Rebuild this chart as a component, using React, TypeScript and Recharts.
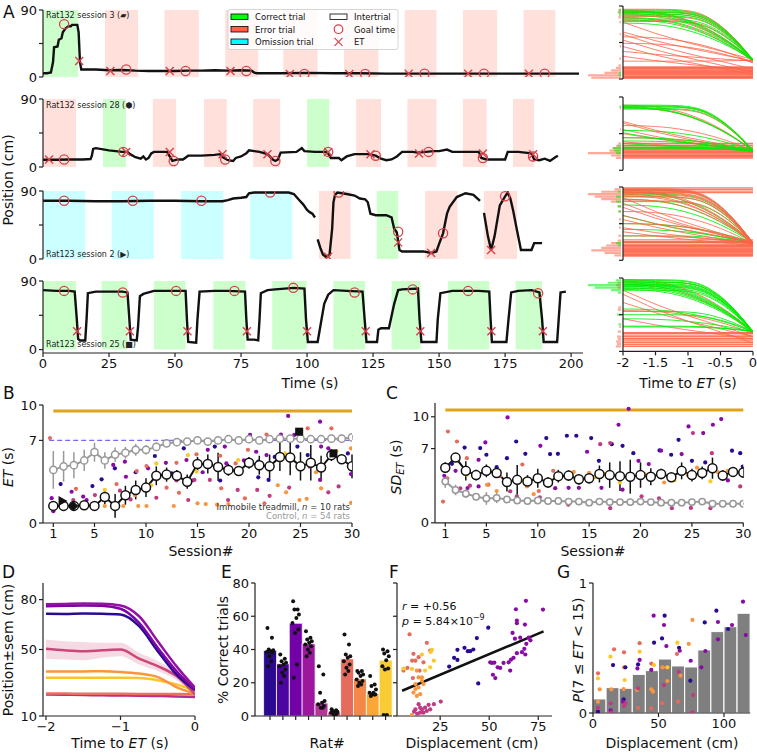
import React from 'react';
import { ComposedChart, Line, Scatter, XAxis, YAxis, ReferenceArea, ReferenceLine, ErrorBar, Bar, Area, Cell } from 'recharts';

const FONT = '"DejaVu Sans", "Liberation Sans", sans-serif';
const RED = '#d6404a';
const NAVY = '#2a0a91';
const PURP = '#8a0aa5';
const MAG = '#c03a83';
const SAL = '#e56b5d';
const ORA = '#f89540';
const YEL = '#f9c929';
const GOLD = '#e0a31e';
const TOMATO = '#ff6347';
const LIME = '#00ee00';

// ---------------- Panel A: position traces ----------------
const row1Trace = [[0,5],[1.5,5],[3,6],[3.8,20],[4.2,40],[5.5,41],[6,50],[7,52],[7.5,60],[8.5,65],[9.5,68],[10.5,68],[11,70],[13,70],[13.5,60],[14,20],[14.5,10],[17,10],[20,10],[25,9],[30,9.5],[35,8.5],[40,8],[45,8],[50,8],[55,8.5],[60,8.5],[65,9],[70,8.5],[75,9],[79,8.5],[80,6],[81,5],[90,5],[100,5.5],[110,5],[120,5],[130,4.5],[140,4.5],[150,4.5],[160,4.5],[170,4.5],[180,4.5],[190,4.5],[200,4.5],[203,4.5]];
const row1Goals = [[8,71],[31.5,10],[54,8],[77,8],[99,4],[122,4],[144.5,4.5],[167,4.5],[190,4.5]];
const row1ETs = [[13.7,21.5],[25.5,8],[48,8],[71,8],[93.5,4],[116,4],[138.5,4.5],[161,4.5],[184,4.5]];
const row1Trials = [[0,13.3,'c'],[23.5,36,'e'],[46,59,'e'],[69,81.5,'e'],[91,104,'e'],[114,127,'e'],[137,149,'e'],[159,172,'e'],[182,194,'e']];

const row2Trace = [[0,9.5],[5,9.5],[10,10],[15,10],[18,10.5],[18.5,15],[19,24],[20,25],[25,22],[30,20],[32,20],[33,17],[35,13],[37,11],[38,14],[39,10],[40,12],[41,18],[42,20],[47,20],[48,14],[49,8],[51,10],[53,10],[55,15],[60,15],[65,16],[67,17],[68,13],[70,9],[72,8],[73,12],[75,14],[77,18],[78,22],[80,21],[82,20],[85,17],[87,10],[88,8],[89,10],[90,19],[96,20],[98,25],[99,21],[103,20],[107,20],[108,18],[109,12],[112,12],[113,9],[115,14],[118,17],[123,17],[126,15],[128,11],[130,9],[132,10],[134,14],[136,20],[140,20],[142,19],[145,20],[148,21],[150,21],[153,23],[155,20],[160,20],[165,20],[166,12],[168,10],[172,10],[175,10],[176,20],[180,20],[185,18],[186,10],[188,9],[190,11],[192,8],[194,13],[195,15]];
const row2Goals = [[8,10],[30.4,20],[49.5,8],[69,10],[88,8],[108,20],[126,15],[146,20],[166.6,12],[185.6,14]];
const row2ETs = [[2.3,10],[31.5,20],[48,20],[68,17],[85,17],[108,20],[124,17],[142.4,18],[166.6,18],[185.6,17]];
const row2Trials = [[0,12.5,'e'],[22.7,31.4,'c'],[41.6,50.4,'e'],[61,69.6,'e'],[79.6,89.8,'e'],[100,108.4,'c'],[118.6,128,'e'],[138,149,'e'],[159,168,'e'],[178,186,'e']];

const row3Trace = [[0,77],[10,77],[20,76.5],[30,76.5],[40,77],[50,77],[60,76.5],[68,76.5],[70,78],[72,80],[75,81],[77,82],[78,87],[80,88],[90,88],[93,88],[95,86],[97,78],[98.6,72],[100,65],[101,62],[102,60],[103,55],[103.5,null],[104,26],[105,15],[106,6],[107,3],[108.5,5],[109.5,40],[110,75],[110.6,85],[111.5,88],[115,86],[118,84],[120,80],[122,79],[123,75],[124,60],[126,58],[130,58],[132,55],[133,40],[134,35],[135,12],[136,10],[140,10],[144,10],[147,8],[149,10],[150,20],[151.5,34],[153,60],[154,69],[156.7,82],[160,87],[163,85],[165.5,77],[166.2,null],[167,61],[168.5,30],[169.7,12],[171,30],[173,71],[175,83],[176,88],[177,80],[178,65],[179.5,38],[181,12],[185,12],[186,21],[189,21]];
const row3Goals = [[8,77],[34,77],[60,77],[86,88],[112,88],[134.5,36],[151.5,34],[175,83]];
const row3ETs = [[108,3],[134.5,22],[147,8],[169.7,12]];
const row3Trials = [[0,16,'o'],[26,42,'o'],[52.3,68.3,'o'],[78.4,94.4,'o'],[104.5,116.5,'e'],[126.4,134.5,'c'],[144.7,157,'e'],[167,179.5,'e']];

const row4Trace = [[0,78],[5,77],[10,77],[12,76],[12.8,40],[13.3,14],[14,12],[16,12],[16.5,40],[17,74],[20,76],[25,76],[30,76],[32,75],[32.7,40],[33.2,13],[35.5,12],[36,30],[36.7,70],[38,73],[40,75],[42,77],[50,77],[54,77],[54.5,40],[55,10],[58,9],[58.5,40],[59.3,76],[65,77],[70,77],[76.5,76],[77,40],[77.5,13],[80,13],[81.5,12],[82,40],[82.5,74],[85,78],[88,79],[95,81],[99,80],[99.6,40],[100.3,10],[104,10],[105,30],[106.5,60],[108,72],[110,78],[115,77],[121,76],[121.8,40],[122.5,10],[126.5,10],[127,26],[128,28],[131,28],[133,60],[134.5,78],[136,79],[142,80],[142.6,40],[143.3,10],[149,10],[149.5,40],[150.5,74],[155,77],[160,77],[165,77],[169,76],[169.5,40],[170,10],[175.5,10],[176.3,40],[177.3,75],[180,77],[185,78],[188,75],[189,40],[189.6,10],[194.7,10],[195.3,40],[196,75],[198,76]];
const row4Goals = [[8,77],[30.2,75],[50.4,77],[72.5,77],[94.8,81],[118,75],[140,79],[161,77],[187.5,74]];
const row4ETs = [[12.9,24],[32.9,24],[54.7,24],[77.2,24],[100,24],[122.2,24],[142.9,24],[169.8,24],[189.3,24]];
const row4Trials = [[0,12.5,'c'],[22.2,32,'c'],[42,54,'c'],[64.5,76.7,'c'],[86.8,99.8,'c'],[110,122,'c'],[132,143,'c'],[153.4,169,'c'],[179,189,'c']];

const timeTicks = [0,25,50,75,100,125,150,175,200];

// ---------------- Panel A right: trajectories before ET ----------------
const trajT = [-2,-1.75,-1.5,-1.25,-1,-0.75,-0.5,-0.25,0];
const trajShapes = [
  [1,1,1,0.995,0.97,0.88,0.68,0.38,0],
  [1,0.99,0.96,0.9,0.8,0.66,0.48,0.26,0],
  [1,0.85,0.7,0.57,0.45,0.34,0.23,0.12,0],
];
const r1Green = [[85,23,0],[84,23,1],[83,23,0],[82,24,0],[81,23,1],[80,23,0],[78,23,0],[76,24,1],[74,23,0],[73,23,1],[71,23,0],[69,23,1]];
const r1Orange = [[86,23,0],[85,23,1],[84,24,0],[83,22,1],[82,23,0],[80,23,0],[79,24,1],[77,23,0],[75,22,1],[72,23,0],[70,24,2],[58,22,2],[55,12,2],[52,20,1],[48,8,2],[44,20,1],[40,5,2],[34,22,2],[28,10,2],[22,23,0]];
const r1Flat = [15,14,13,12,11,10,9,8,7,6,5,4,3,2,1.5,1];
const r2Green = [[80,24,0],[79,24,0],[78,24,1],[78,25,0],[77,24,1],[76,24,0],[49,24,1],[46,24,2],[40,24,1],[36,24,1],[33,24,2],[30,24,0],[28,24,1],[27,25,0]];
const r2Orange = [[80,24,1],[78,23,0],[77,24,1],[75,24,0],[60,24,2],[58,22,2],[55,24,1],[50,22,2],[45,24,2],[40,22,1],[35,24,2]];
const r2Flat = [33,31,30,28,27,26,25,24,23,22,21,20,19,18,17,16,15];
const r3Green = [[86,21,0],[84,21,1],[81,22,0],[78,21,0],[75,21,1],[72,22,0],[68,21,1],[55,21,2],[45,22,1],[38,21,1],[30,20,0],[22,21,0]];
const r3Orange = [[88,21,0],[87,21,0],[86,22,1],[86,21,0],[85,20,0],[84,22,1],[83,21,0],[82,22,0],[81,20,1],[80,21,0],[79,22,1],[78,21,0],[77,20,2],[75,22,1],[73,21,0],[70,20,2],[65,21,2],[60,20,1],[55,22,2],[50,19,2],[45,21,1],[40,20,2],[35,18,2],[30,21,1]];
const r3Flat = [89,87,85,83,25,23,22,20,19,18,17,16,15,14,13,12,11,10,9,8,7,6,5];
const r4Green = [[88,24,0],[87,24,0],[86,24,1],[85,25,0],[85,24,0],[84,24,1],[83,24,0],[82,24,0],[82,25,1],[81,24,0],[80,24,0],[80,24,1],[79,24,0],[78,25,1],[77,24,0],[76,24,1],[75,24,0],[52,24,1],[49,24,0],[45,24,0],[40,24,1],[31,24,0],[30,25,0]];
const r4Orange = [[88,24,1],[85,24,0],[82,22,1],[75,18,2],[70,10,2],[60,18,2],[50,22,1],[40,15,2]];
const r4Flat = [23,22,20,18,16,15,13,11,9,8,6];

const r1HistO = [[1.5,0.9],[4.5,1.0],[7.5,0.5],[10.5,0.3],[13.5,0.15],[16.5,0.08],[25,0.05],[40,0.04],[55,0.04],[70,0.05],[76,0.08],[82,0.1],[85,0.08]];
const r1HistG = [[4.5,0.08],[7.5,0.05],[79,0.06],[82,0.08],[85,0.05]];
const r2HistO = [[15,0.15],[18,0.3],[21,1.0],[24,0.35],[27,0.25],[30,0.15],[33,0.08],[50,0.03],[76,0.04]];
const r2HistG = [[21,0.15],[24,0.2],[27,0.25],[30,0.1],[78,0.05]];
const r3HistO = [[6,0.2],[9,0.5],[12,0.9],[15,0.6],[18,0.45],[21,0.3],[24,0.1],[30,0.08],[40,0.06],[50,0.06],[60,0.07],[66,0.1],[72,0.3],[75,0.6],[78,0.8],[81,1.0],[84,0.6],[87,0.2]];
const r3HistG = [[18,0.1],[21,0.15],[45,0.05],[60,0.08],[66,0.1],[72,0.15],[78,0.15],[84,0.1]];
const r4HistO = [[6,0.15],[9,0.12],[12,0.15],[15,0.1],[18,0.12],[24,0.1],[30,0.05],[51,0.1],[54,0.08],[78,0.1],[81,0.15],[84,0.1]];
const r4HistG = [[33,0.08],[45,0.12],[72,0.1],[75,0.3],[78,0.8],[81,1.0],[84,0.4],[87,0.15]];

// ---------------- Panel B ----------------
const sessions = Array.from({ length: 30 }, (_, i) => i + 1);
const bImm = [1.45,1.45,1.45,1.5,1.45,2.2,1.45,2.35,2.8,3.0,4.0,4.1,4.0,3.5,5.0,5.0,4.75,4.5,4.4,5.1,4.9,4.8,5.6,5.55,4.8,5.1,4.7,5.75,5.4,4.8];
const bImmErr = [0.3,0.3,0.3,0.25,0.3,0.6,1.0,0.8,0.8,0.8,0.8,0.6,0.5,0.6,0.6,0.8,1.2,0.5,0.4,0.5,0.8,1.0,1.2,1.5,1.2,1.5,1.0,0.5,0.3,1.0];
const bCtl = [4.5,4.8,4.9,5.3,6.0,5.3,5.8,5.95,6.2,6.2,6.45,6.75,6.85,6.9,7.0,6.9,7.0,7.1,7.0,7.1,7.0,7.1,7.15,7.15,7.15,7.1,7.1,7.15,7.15,7.25];
const bCtlErr = [1.6,1.3,1.1,0.9,0.8,0.7,0.6,0.5,0.5,0.4,0.35,0.3,0.3,0.25,0.2,0.2,0.2,0.2,0.2,0.2,0.2,0.2,0.2,0.2,0.2,0.2,0.2,0.2,0.2,0.2];
const bNavy = [[1.71,3.3],[4.8,3.13],[5.69,3.7],[6.98,4.63],[10.86,5.68],[13.67,6.33],[16.68,6.48],[17.2,3.6],[20.9,5.2],[20.9,3.87],[21.9,3.65],[22.5,5.6],[24.7,6.48],[25.7,5.76],[28.0,5.76],[29.6,5.9],[9.0,4.3],[12.5,4.2]];
const bPurp = [[0.84,2.1],[1.0,1.0],[2.78,2.65],[2.94,1.45],[3.9,2.24],[4.23,1.95],[6.82,4.92],[8.05,3.92],[7.95,5.2],[9.25,2.8],[10.2,4.63],[11.93,5.1],[13.93,5.34],[14.5,3.6],[16.0,6.2],[17.65,6.48],[17.8,5.05],[20.1,7.46],[20.7,6.04],[21.7,5.76],[23.1,7.5],[23.8,9.07],[24.4,7.46],[26.9,8.59],[27.0,6.48],[26.9,3.65],[27.7,6.33],[29.9,4.15],[19.5,5.3],[15.5,4.3]];
const bMag = [[2.94,1.95],[5.04,2.37],[7.47,2.74],[11.0,2.14],[12.96,3.6],[14.1,1.95],[14.7,3.65],[16.2,3.65],[17.97,1.95],[18.9,2.8],[20.8,2.8],[23.9,3.0],[25.9,4.77],[27.7,2.6],[28.7,3.1],[8.5,2.0],[22.0,2.3]];
const bSal = [[0.68,7.2],[3.2,2.9],[7.14,3.3],[9.1,4.4],[10.05,4.83],[12.0,2.99],[12.96,5.1],[13.2,2.56],[14.9,5.82],[17.2,5.7],[17.3,2.94],[18.7,5.05],[19.9,6.2],[19.6,2.09],[21.7,7.5],[21.5,1.67],[25.7,8.02],[28.0,8.02],[28.97,7.32],[23.0,5.3]];
const bOra = [[6.0,1.44],[7.79,1.44],[8.92,2.37],[9.25,1.44],[10.05,1.44],[12.7,1.44],[15.0,1.67],[15.8,1.6],[16.9,1.55],[18.0,1.6],[22.8,3.2],[23.6,2.6],[24.9,1.95],[25.6,2.05],[27.0,2.94],[29.9,6.33],[29.9,1.7],[26.5,4.3],[19.2,4.6]];
const bYel = [[6.0,2.8],[11.0,5.05],[14.9,4.35],[14.07,5.76],[18.95,5.34],[23.5,5.9],[10.5,3.2],[28.5,6.1],[21.0,4.7]];
const bMarkers = [[1.9,1.86,'tri'],[2.94,1.44,'dia'],[24.87,7.74,'sq'],[28.2,5.9,'sq']];

// ---------------- Panel C ----------------
const cImm = [5.2,6.15,4.9,4.5,4.9,4.7,3.85,4.05,3.9,4.2,3.8,4.4,4.45,4.1,4.2,4.6,4.5,4.4,4.35,4.5,4.35,4.6,4.3,4.9,4.5,4.7,5.15,4.45,4.8,4.75];
const cImmErr = [0.5,0.4,0.9,0.5,0.6,0.4,0.9,1.4,0.6,0.9,0.5,0.6,0.5,0.5,0.5,0.8,1.2,1.4,1.6,1.2,0.8,0.5,0.4,0.8,0.6,0.6,1.0,0.5,0.4,0.5];
const cCtl = [3.9,3.1,2.75,2.45,2.3,2.35,2.2,2.1,2.05,2.1,2.05,2.05,2.0,2.0,1.9,2.0,1.95,1.95,1.95,2.0,1.95,1.9,1.9,1.9,1.95,2.0,1.8,1.8,1.8,1.8];
const cCtlErr = [0.6,0.5,0.4,0.3,0.6,0.5,0.2,0.2,0.2,0.15,0.12,0.12,0.1,0.1,0.1,0.1,0.1,0.1,0.1,0.1,0.1,0.1,0.1,0.1,0.1,0.1,0.1,0.1,0.1,0.1];
const cNavy = [[1.65,5.56],[2.88,7.1],[4.4,7.05],[5.0,6.42],[6.0,5.25],[7.0,6.1],[7.9,7.67],[8.79,6.51],[10.83,7.99],[11.2,6.48],[11.96,6.51],[12.83,8.21],[13.75,8.21],[15.2,7.99],[15.95,5.85],[17.2,7.42],[18.25,7.26],[19.3,6.57],[21.85,6.83],[22.98,6.42],[23.7,7.83],[25.0,5.85],[26.3,5.69],[28.9,6.8],[29.7,6.57],[29.95,5.3]];
const cPurp = [[0.9,4.44],[3.17,3.28],[4.24,5.94],[4.24,3.43],[4.9,7.58],[7.06,9.94],[10.25,7.26],[11.7,3.27],[13.0,3.3],[14.0,3.3],[14.8,6.7],[16.2,3.3],[17.86,9.25],[18.25,3.12],[18.84,10.75],[19.8,5.85],[20.8,5.54],[22.0,6.8],[24.0,6.48],[24.67,9.09],[26.1,8.46],[27.04,9.25],[27.85,9.78],[28.5,4.0],[2.0,4.9]];
const cMag = [[2.46,3.24],[3.4,3.5],[7.32,2.97],[7.97,2.5],[12.97,1.7],[16.08,7.42],[17.05,7.52],[17.05,1.38],[19.16,1.85],[20.1,2.5],[21.8,2.3],[23.05,1.38],[25.1,8.46],[24.9,1.4],[26.8,1.38],[26.94,6.57],[29.7,3.43],[10.2,2.4]];
const cSal = [[0.78,2.0],[1.26,8.61],[2.14,7.67],[3.1,6.1],[5.2,3.6],[8.5,5.5],[10.1,3.0],[11.5,4.9],[22.0,4.6],[28.8,4.9],[1.2,4.2],[6.3,4.4]];
const cOra = [[1.26,5.17],[4.1,4.7],[5.06,3.58],[6.0,3.0],[8.95,3.43],[13.5,4.8],[15.0,4.7],[16.5,4.6],[19.0,4.3],[20.4,4.6],[22.3,3.8],[24.6,4.5],[25.5,5.2],[27.5,4.8],[28.5,4.9],[9.6,2.7]];
const cYel = [[3.1,4.54],[8.5,4.0],[11.8,4.2],[13.3,4.5],[15.6,4.3],[18.0,3.8],[21.0,4.1],[23.3,4.0],[26.8,3.9]];

// ---------------- Panel D ----------------
const dT = [-2,-1.75,-1.5,-1.25,-1,-0.75,-0.5,-0.25,0];
const dPurpA = [77.2,77.4,77.6,77.5,76.5,70,55,40,27];
const dPurpB = [76,76.3,76.5,76.3,74.5,66,51,37,26];
const dNavy = [71.5,71.4,71.6,71.5,71,64,49,35,25.5];
const dPink = [50.4,49.5,49,49.5,50,44.5,40,34,23];
const dPinkLo = [44.5,44,43.5,45,46,41,37,31.5,21.5];
const dPinkHi = [56,55,54.5,54,54,48,43,36.5,24.5];
const dOra = [36.8,36.8,36.8,36.9,36.5,35.5,33.4,27.4,23.4];
const dYel = [33,33,33,33,33,32.8,31.5,29,25];
const dSal = [23.5,23.5,23.4,23.4,23.4,23.3,23.2,23.2,23];
const dMag = [23,22.8,22.6,22.5,22.3,22.2,22,21.8,21.5];

// ---------------- Panel E ----------------
const rats = [1,2,3,4,5,6,7,8,9,10];
const eVals = [39.4,31.4,55.8,43.4,7.8,2.4,34.4,22.4,13.4,33.6];
const eColors = ['#2a0a91','#4c05a0','#7201a8','#9c179e','#b5359a','#cf4f86','#e56b5d','#f48849','#fca636','#f9cb35'];
const eDots = [
  [53,47,40,39.5,39,38.5,38,36,33,30],
  [37,34.5,33,32,31,30,28,26,24,20],
  [69,64,64,61,59,56,52,50,31,23],
  [51,47,46,45,44,43,42,40,38,36],
  [30,25,14,9,8,7,6,5,5],
  [4,3.5,3,2.5,2,2,1.5,1,0.5],
  [49,43,37,36,35,33,31,29,27,25],
  [27,27,26,25,24,22,21,20,19,18],
  [24,19,18,16,14,14,13,13,13,12],
  [40,39,37.6,36,33.6,30,28.6,28,0.6,0.6],
];
const eJitter = [-0.2,0.15,-0.1,0.25,0.05,-0.25,0.2,-0.05,0.1,-0.15];

// ---------------- Panel F ----------------
const fSal = [[9.4,49.1],[18.2,44],[6.3,27.3],[10.7,33.3],[12.4,33.3],[16.5,32.3],[11.4,37.4],[14,35.4],[8.3,28.9],[11.1,22.8],[19.9,39.4],[14.5,27.3]];
const fOra = [[13.1,27.3],[15.7,23.2],[12.4,19.2],[14,17.2],[11.4,14.1],[14.8,13.1],[13.1,12.1],[16.5,19.2],[12.4,16.2],[15.7,21.2],[14,23.2],[10.6,0.5]];
const fYel = [[15.7,37],[20.8,39.8],[21.8,33.3],[19.9,29.3],[17.3,27.3],[10.6,28.3],[20.2,38.5],[6.3,28.5]];
const fMag = [[12.4,4],[14,7.1],[15.7,4],[17.3,5],[19.9,4],[21.8,7.1],[25.3,8.7],[16.5,2],[18.2,3],[14.8,2],[13.3,1.4],[19.1,6.7],[11.7,2.6],[14.8,5]];
const fNavy = [[29.6,29.7],[32.1,35],[33.8,33.7],[33.8,39.8],[37.4,41],[39.1,39],[40.3,39],[41.9,40],[43.7,46.9],[49.5,53.1],[44.4,19.6]];
const fPurp = [[63.6,64.2],[68.7,69.3],[77.4,64],[64.1,57.4],[64.1,55.8],[68.2,55],[61.9,50],[63.1,46.5],[65.8,47.1],[70.1,47.1],[71,45.5],[68.9,43.4],[67.9,40.4],[66.7,38.4],[68.4,37],[64.1,37.8],[62.4,35],[59.9,32.3],[57.3,31.9],[55.6,28.9],[54.3,29.3],[50.5,32.3],[51.4,31.9],[52.6,32.1],[51.9,24.8],[53.1,22.8],[60.7,27.3],[61.1,33.9]];
const fFit = [[5.6,15.2],[77.7,50.9]];

// ---------------- Panel G ----------------
const gCenters = [5,15,25,35,45,55,65,75,85,95,105,115];
const gVals = [0.108,0.195,0.19,0.297,0.326,0.415,0.362,0.354,0.485,0.626,0.664,0.767];
const gSal = [[3.8,0.305],[16.1,0.49],[23.7,0.467],[35.6,0.537],[44.5,0.38],[64.1,0.454],[34.4,0.04],[44.5,0.036],[52.9,0.075],[64.9,0.087],[3.8,0.015],[54,0.35]];
const gYel = [[3.8,0.267],[13.3,0.433],[24.2,0.254],[35.6,0.472],[46.6,0.369],[56.8,0.351],[64.4,0.541]];
const gOra = [[5.1,0.182],[14,0.182],[23.7,0.351],[23.4,0.184],[33.6,0.177],[44.5,0.182],[45.8,0.164],[56.8,0.246],[53,0.351],[66.9,0.287],[73.1,0.531],[75.9,0.716],[3.8,0.087]];
const gNavy = [[15.3,0.369],[24.7,0.351],[34.4,0.374],[46.6,0.541],[54.7,0.749],[52.7,0.574],[65.7,0.502],[74.3,0.249],[85.3,0.697],[94.2,0.787],[103.1,0.646],[23.4,0.105],[3.8,0.01]];
const gPurp = [[46.3,0.749],[54.2,0.677],[56,0.515],[66.2,0.479],[74.6,0.402],[85.8,0.477],[95.4,0.7],[106.1,0.677],[114.5,0.856],[116.6,0.6],[44.5,0.331],[33.9,0.343],[35.6,0.408],[82.7,0.351],[95.4,0.567],[22.9,0.087],[13.5,0.02]];
const gMag = [[34.4,0.19],[13.5,0.075],[23.7,0.054],[24.7,0.075],[65.4,0.318],[54.2,0.215],[76.4,0.138],[75.9,0.005],[14,0.003],[3.8,0.04]];

// ---------------- helpers ----------------
const pts = (arr: any[], kx = 't', ky = 'v') => arr.map((p) => ({ [kx]: p[0], [ky]: p[1] }));
const tickStyle = { fill: '#111', fontSize: 13, fontFamily: FONT };
const axisLine = { stroke: '#222', strokeWidth: 1.2 };

function box(x0: number, y0: number, x1: number, y1: number, yW: number, xH: number) {
  const m = { top: 10, right: 10, bottom: 10, left: 10 };
  return { left: x0 - yW - m.left, top: y0 - m.top, width: x1 - x0 + yW + m.left + m.right, height: y1 - y0 + xH + m.top + m.bottom, margin: m };
}

function Frame({ b, children, layout, data, gap }: any) {
  return (
    <div style={{ position: 'absolute', left: b.left, top: b.top, width: b.width, height: b.height }}>
      <ComposedChart width={b.width} height={b.height} margin={b.margin} layout={layout} data={data} barCategoryGap={gap === undefined ? '10%' : gap} barGap={0}>
        {children}
      </ComposedChart>
    </div>
  );
}

const circleShape = (p: any) => <circle cx={p.cx} cy={p.cy} r={4.6} fill="none" stroke={RED} strokeWidth={1.3} />;
const crossShape = (p: any) => (
  <path d={`M${p.cx - 4},${p.cy - 4}L${p.cx + 4},${p.cy + 4}M${p.cx - 4},${p.cy + 4}L${p.cx + 4},${p.cy - 4}`} stroke={RED} strokeWidth={1.4} fill="none" />
);
const dotShape = (color: string, r = 2.1) => (p: any) => <circle cx={p.cx} cy={p.cy} r={r} fill={color} />;
const markerShape = (p: any) => {
  const { cx, cy } = p;
  const k = p.payload.k;
  if (k === 'tri') return <path d={`M${cx - 4},${cy - 5}L${cx + 5},${cy}L${cx - 4},${cy + 5}Z`} fill="#111" />;
  if (k === 'dia') return <path d={`M${cx},${cy - 5}L${cx + 5},${cy}L${cx},${cy + 5}L${cx - 5},${cy}Z`} fill="#111" />;
  return <rect x={cx - 4} y={cy - 4} width={8} height={8} fill="#111" />;
};

const trialFill: any = { c: '#00ff00', e: TOMATO, o: '#00ffff' };

function TraceRow({ rect, trace, goals, ets, trials, showX, yDomain }: any) {
  const b = box(rect[0], rect[1], rect[2], rect[3], 32, showX ? 24 : 0);
  return (
    <Frame b={b}>
      <XAxis type="number" dataKey="t" domain={[0, 204.5]} allowDataOverflow ticks={timeTicks} interval={0} hide={!showX} height={24} tick={tickStyle} tickSize={4} axisLine={axisLine} tickLine={axisLine} />
      <YAxis type="number" dataKey="v" domain={yDomain} allowDataOverflow ticks={[0, 45, 90]} interval={0} width={32} tickFormatter={(v: number) => (v === 45 ? '' : String(v))} tick={tickStyle} tickSize={4} axisLine={axisLine} tickLine={axisLine} />
      {trials.map((tr: any, i: number) => (
        <ReferenceArea key={i} x1={tr[0]} x2={tr[1]} y1={0} y2={90} fill={trialFill[tr[2]]} fillOpacity={0.2} stroke="none" ifOverflow="hidden" />
      ))}
      <Line data={pts(trace)} dataKey="v" stroke="#111" strokeWidth={2.4} dot={false} isAnimationActive={false} connectNulls={false} />
      <Scatter data={pts(goals)} dataKey="v" shape={circleShape} isAnimationActive={false} />
      <Scatter data={pts(ets)} dataKey="v" shape={crossShape} isAnimationActive={false} />
    </Frame>
  );
}

const traj = (s: number, e: number, k: number) => trajT.map((t, i) => ({ t, v: e + (s - e) * trajShapes[k][i] }));

function TrajRow({ y0, y1, green, orange, flat, greenFirst, showX }: any) {
  const b = box(623, y0, 753, y1, 6, showX ? 24 : 0);
  const oLines = orange.map((o: any, i: number) => (
    <Line key={'o' + i} data={traj(o[0], o[1], o[2])} dataKey="v" type="monotone" stroke={TOMATO} strokeOpacity={0.8} strokeWidth={1} dot={false} isAnimationActive={false} />
  ));
  const fLines = flat.map((v: number, i: number) => (
    <Line key={'f' + i} data={traj(v, v, 0)} dataKey="v" stroke={TOMATO} strokeOpacity={0.85} strokeWidth={1.2} dot={false} isAnimationActive={false} />
  ));
  const gLines = green.map((g: any, i: number) => (
    <Line key={'g' + i} data={traj(g[0], g[1], g[2])} dataKey="v" type="monotone" stroke={LIME} strokeOpacity={0.85} strokeWidth={1} dot={false} isAnimationActive={false} />
  ));
  return (
    <Frame b={b}>
      <XAxis type="number" dataKey="t" domain={[-2, 0]} allowDataOverflow ticks={[-2, -1.5, -1, -0.5, 0]} interval={0} hide={!showX} height={24} tick={tickStyle} tickSize={4} axisLine={axisLine} tickLine={axisLine} />
      <YAxis type="number" dataKey="v" domain={[0, 90]} allowDataOverflow ticks={[0, 45, 90]} interval={0} width={6} tickFormatter={() => ''} tickSize={4} axisLine={axisLine} tickLine={axisLine} />
      {greenFirst ? gLines : fLines}
      {greenFirst ? fLines : oLines}
      {greenFirst ? oLines : gLines}
    </Frame>
  );
}

function Hist({ y0, y1, data, color }: any) {
  const b = box(588, y0, 621, y1, 0, 0);
  return (
    <Frame b={b} layout="vertical" data={data.map((d: any) => ({ v: d[0], w: d[1] }))}>
      <XAxis type="number" domain={[0, 1]} reversed hide allowDataOverflow />
      <YAxis type="number" dataKey="v" domain={[0, 90]} reversed hide allowDataOverflow />
      <Bar dataKey="w" fill={color} fillOpacity={0.55} barSize={2.6} isAnimationActive={false} />
    </Frame>
  );
}

function Dots({ sets, kx, axisId }: any) {
  return sets.map(([arr, color]: any, i: number) => (
    <Scatter key={i} xAxisId={axisId} data={pts(arr, kx, 'v')} dataKey="v" shape={dotShape(color)} isAnimationActive={false} />
  ));
}

export default function App() {
  const bData = sessions.map((s, i) => ({ s, imm: bImm[i], immE: bImmErr[i], ctl: bCtl[i], ctlE: bCtlErr[i] }));
  const cData = sessions.map((s, i) => ({ s, imm: cImm[i], immE: cImmErr[i], ctl: cCtl[i], ctlE: cCtlErr[i] }));
  const dData = dT.map((t, i) => ({ t, pa: dPurpA[i], pb: dPurpB[i], nv: dNavy[i], pk: dPink[i], band: [dPinkLo[i], dPinkHi[i]], or: dOra[i], ye: dYel[i], sa: dSal[i], mg: dMag[i] }));
  const eData = rats.map((r, i) => ({ r, v: eVals[i] }));
  const eDotData = eDots.flatMap((arr, i) => arr.map((v, j) => ({ r: i + 1 + eJitter[j % eJitter.length], v })));
  const gData = gCenters.map((x, i) => ({ x, v: gVals[i] }));

  const bB = box(43, 405, 352, 523, 36, 24);
  const bC = box(434.7, 403.2, 743, 523, 36, 24);
  const bD = box(43, 583, 195, 716, 36, 24);
  const bE = box(255, 583, 392, 716, 36, 24);
  const bF = box(397, 583, 552, 716, 6, 24);
  const bG = box(593.3, 583, 750.5, 713, 24, 24);

  const label = { fontFamily: FONT, fill: '#111' };

  return (
    <div style={{ position: 'absolute', left: 0, top: 0, width: 757, height: 754, background: '#fff', fontFamily: FONT, overflow: 'hidden' }}>
      {/* Panel A left */}
      <TraceRow rect={[43, 10, 583, 77]} trace={row1Trace} goals={row1Goals} ets={row1ETs} trials={row1Trials} yDomain={[0, 90]} />
      <TraceRow rect={[43, 99, 583, 167]} trace={row2Trace} goals={row2Goals} ets={row2ETs} trials={row2Trials} yDomain={[0, 90]} />
      <TraceRow rect={[43, 191, 583, 259]} trace={row3Trace} goals={row3Goals} ets={row3ETs} trials={row3Trials} yDomain={[0, 90]} />
      <TraceRow rect={[43, 281, 583, 353]} trace={row4Trace} goals={row4Goals} ets={row4ETs} trials={row4Trials} yDomain={[-4.5, 90]} showX />

      {/* Panel A right */}
      <Hist y0={6} y1={79} data={r1HistO} color={TOMATO} />
      <Hist y0={6} y1={79} data={r1HistG} color={LIME} />
      <Hist y0={96.7} y1={170} data={r2HistO} color={TOMATO} />
      <Hist y0={96.7} y1={170} data={r2HistG} color={LIME} />
      <Hist y0={186.7} y1={260} data={r3HistO} color={TOMATO} />
      <Hist y0={186.7} y1={260} data={r3HistG} color={LIME} />
      <Hist y0={278.3} y1={351.7} data={r4HistO} color={TOMATO} />
      <Hist y0={278.3} y1={351.7} data={r4HistG} color={LIME} />
      <TrajRow y0={6} y1={79} green={r1Green} orange={r1Orange} flat={r1Flat} />
      <TrajRow y0={96.7} y1={170} green={r2Green} orange={r2Orange} flat={r2Flat} />
      <TrajRow y0={186.7} y1={260} green={r3Green} orange={r3Orange} flat={r3Flat} greenFirst />
      <TrajRow y0={278.3} y1={351.7} green={r4Green} orange={r4Orange} flat={r4Flat} showX />

      {/* Panel B */}
      <Frame b={bB} data={bData}>
        <XAxis type="number" dataKey="s" domain={[0, 30]} allowDataOverflow ticks={[1, 5, 10, 15, 20, 25, 30]} interval={0} height={24} tick={tickStyle} tickSize={4} axisLine={axisLine} tickLine={axisLine} />
        <YAxis type="number" domain={[0, 10]} allowDataOverflow ticks={[0, 7, 10]} interval={0} width={36} tick={tickStyle} tickSize={4} axisLine={axisLine} tickLine={axisLine} />
        <ReferenceLine segment={[{ x: 1, y: 9.5 }, { x: 30, y: 9.5 }]} stroke={GOLD} strokeWidth={3} />
        <ReferenceLine segment={[{ x: 0.6, y: 7 }, { x: 30, y: 7 }]} stroke="#7b68ee" strokeWidth={1.2} strokeDasharray="5 3" />
        {Dots({ sets: [[bNavy, NAVY], [bPurp, PURP], [bMag, MAG], [bSal, SAL], [bOra, ORA], [bYel, YEL]], kx: 's' })}
        <Line dataKey="ctl" stroke="#999" strokeWidth={2} dot={{ r: 3.6, fill: '#fff', stroke: '#999', strokeWidth: 1.5 }} isAnimationActive={false}>
          <ErrorBar dataKey="ctlE" direction="y" width={0} stroke="#999" strokeWidth={1.5} />
        </Line>
        <Line dataKey="imm" stroke="#111" strokeWidth={2} dot={{ r: 4.5, fill: '#fff', stroke: '#111', strokeWidth: 1.5 }} isAnimationActive={false}>
          <ErrorBar dataKey="immE" direction="y" width={0} stroke="#111" strokeWidth={1.5} />
        </Line>
        <Scatter data={bMarkers.map((m) => ({ s: m[0], v: m[1], k: m[2] }))} dataKey="v" shape={markerShape} isAnimationActive={false} />
      </Frame>

      {/* Panel C */}
      <Frame b={bC} data={cData}>
        <XAxis type="number" dataKey="s" domain={[0, 30]} allowDataOverflow ticks={[1, 5, 10, 15, 20, 25, 30]} interval={0} height={24} tick={tickStyle} tickSize={4} axisLine={axisLine} tickLine={axisLine} />
        <YAxis type="number" domain={[0, 11.3]} allowDataOverflow ticks={[0, 7, 10]} interval={0} width={36} tick={tickStyle} tickSize={4} axisLine={axisLine} tickLine={axisLine} />
        <ReferenceLine segment={[{ x: 1, y: 10.65 }, { x: 30, y: 10.65 }]} stroke={GOLD} strokeWidth={3} />
        {Dots({ sets: [[cNavy, NAVY], [cPurp, PURP], [cMag, MAG], [cSal, SAL], [cOra, ORA], [cYel, YEL]], kx: 's' })}
        <Line dataKey="ctl" stroke="#999" strokeWidth={2} dot={{ r: 3.2, fill: '#fff', stroke: '#999', strokeWidth: 1.5 }} isAnimationActive={false}>
          <ErrorBar dataKey="ctlE" direction="y" width={0} stroke="#999" strokeWidth={1.5} />
        </Line>
        <Line dataKey="imm" stroke="#111" strokeWidth={2} dot={{ r: 4.5, fill: '#fff', stroke: '#111', strokeWidth: 1.5 }} isAnimationActive={false}>
          <ErrorBar dataKey="immE" direction="y" width={0} stroke="#111" strokeWidth={1.5} />
        </Line>
      </Frame>

      {/* Panel D */}
      <Frame b={bD} data={dData}>
        <XAxis type="number" dataKey="t" domain={[-2.04, 0]} allowDataOverflow ticks={[-2, -1, 0]} interval={0} tickFormatter={(v: number) => (v < 0 ? '\u2212' + Math.abs(v) : String(v))} height={24} tick={tickStyle} tickSize={4} axisLine={axisLine} tickLine={axisLine} />
        <YAxis type="number" domain={[10, 90]} allowDataOverflow ticks={[10, 50, 80]} interval={0} width={36} tick={tickStyle} tickSize={4} axisLine={axisLine} tickLine={axisLine} />
        <Area dataKey="band" type="monotone" fill="#cc4778" fillOpacity={0.2} stroke="none" isAnimationActive={false} />
        <Line dataKey="mg" type="monotone" stroke="#b52f8c" strokeWidth={2.5} dot={false} isAnimationActive={false} />
        <Line dataKey="sa" type="monotone" stroke="#e8725a" strokeWidth={2.5} dot={false} isAnimationActive={false} />
        <Line dataKey="ye" type="monotone" stroke="#fdc328" strokeWidth={2.5} dot={false} isAnimationActive={false} />
        <Line dataKey="or" type="monotone" stroke={ORA} strokeWidth={2.5} dot={false} isAnimationActive={false} />
        <Line dataKey="pk" type="monotone" stroke="#cc4778" strokeWidth={2.5} dot={false} isAnimationActive={false} />
        <Line dataKey="nv" type="monotone" stroke={NAVY} strokeWidth={2.5} dot={false} isAnimationActive={false} />
        <Line dataKey="pb" type="monotone" stroke="#7a06a6" strokeWidth={2.5} dot={false} isAnimationActive={false} />
        <Line dataKey="pa" type="monotone" stroke="#9411a2" strokeWidth={2.5} dot={false} isAnimationActive={false} />
      </Frame>

      {/* Panel E */}
      <Frame b={bE} data={eData} gap={0}>
        <XAxis xAxisId="num" type="number" dataKey="r" domain={[-0.17, 10.5]} allowDataOverflow ticks={rats} interval={0} tickFormatter={() => ''} height={24} tickSize={4} axisLine={axisLine} tickLine={axisLine} />
        <XAxis xAxisId="cat" type="category" dataKey="r" hide orientation="top" height={0} padding={{ left: 8.6, right: 0 }} />
        <YAxis type="number" domain={[0, 80]} allowDataOverflow ticks={[0, 20, 40, 60, 80]} interval={0} width={36} tick={tickStyle} tickSize={4} axisLine={axisLine} tickLine={axisLine} />
        <Bar xAxisId="cat" dataKey="v" stroke="#fff" strokeWidth={0.8} isAnimationActive={false}>
          {eData.map((d, i) => <Cell key={i} fill={eColors[i]} />)}
        </Bar>
        <Scatter xAxisId="num" data={eDotData} dataKey="v" shape={dotShape('#111', 2)} isAnimationActive={false} />
      </Frame>

      {/* Panel F */}
      <Frame b={bF}>
        <XAxis type="number" dataKey="x" domain={[3, 82]} allowDataOverflow ticks={[25, 50, 75]} interval={0} height={24} tick={tickStyle} tickSize={4} axisLine={axisLine} tickLine={axisLine} />
        <YAxis type="number" domain={[0, 80]} allowDataOverflow ticks={[0, 20, 40, 60, 80]} interval={0} width={6} tickFormatter={() => ''} tickSize={4} axisLine={axisLine} tickLine={axisLine} />
        {Dots({ sets: [[fSal, SAL], [fOra, ORA], [fYel, YEL], [fMag, MAG], [fNavy, NAVY], [fPurp, PURP]], kx: 'x' })}
        <Line data={pts(fFit, 'x', 'v')} dataKey="v" stroke="#111" strokeWidth={2.5} dot={false} isAnimationActive={false} />
      </Frame>

      {/* Panel G */}
      <Frame b={bG} data={gData} gap={0}>
        <XAxis xAxisId="num" type="number" dataKey="x" domain={[0, 120]} allowDataOverflow ticks={[0, 50, 100]} interval={0} height={24} tick={tickStyle} tickSize={4} axisLine={axisLine} tickLine={axisLine} />
        <XAxis xAxisId="cat" type="category" dataKey="x" hide orientation="top" height={0} />
        <YAxis type="number" domain={[0, 1]} allowDataOverflow ticks={[0, 1]} interval={0} width={24} tick={tickStyle} tickSize={4} axisLine={axisLine} tickLine={axisLine} />
        <Bar xAxisId="cat" dataKey="v" fill="#7f7f7f" stroke="#fff" strokeWidth={1} isAnimationActive={false} />
        {Dots({ sets: [[gSal, SAL], [gYel, YEL], [gOra, ORA], [gNavy, NAVY], [gPurp, PURP], [gMag, MAG]], kx: 'x', axisId: 'num' })}
      </Frame>

      {/* Text overlay */}
      <svg width={757} height={754} style={{ position: 'absolute', left: 0, top: 0, pointerEvents: 'none' }}>
        <g style={label as any}>
          <text x={3} y={18} fontSize={17} fontFamily={FONT}>A</text>
          <text x={3} y={399} fontSize={17} fontFamily={FONT}>B</text>
          <text x={386} y={399} fontSize={17} fontFamily={FONT}>C</text>
          <text x={2} y={578} fontSize={17} fontFamily={FONT}>D</text>
          <text x={221} y={578} fontSize={17} fontFamily={FONT}>E</text>
          <text x={389} y={578} fontSize={17} fontFamily={FONT}>F</text>
          <text x={557} y={578} fontSize={17} fontFamily={FONT}>G</text>

          <text x={46} y={18} fontSize={8} fontFamily={FONT} fill="#222">Rat132 session 3 (▰)</text>
          <text x={46} y={108} fontSize={8} fontFamily={FONT} fill="#222">Rat132 session 28 (⬢)</text>
          <text x={46} y={257} fontSize={8} fontFamily={FONT} fill="#222">Rat123 session 2 (▶)</text>
          <text x={46} y={347} fontSize={8} fontFamily={FONT} fill="#222">Rat123 session 25 (■)</text>

          {/* legend */}
          <rect x={228} y={9.5} width={170} height={40} rx={2} fill="#fff" fillOpacity={0.85} stroke="#ccc" strokeWidth={0.8} />
          <rect x={231} y={14} width={17} height={5.5} fill="#00ff00" stroke="#000" strokeWidth={0.8} />
          <rect x={231} y={26.5} width={17} height={5.5} fill={TOMATO} stroke="#000" strokeWidth={0.8} />
          <rect x={231} y={39} width={17} height={5.5} fill="#00ffff" stroke="#000" strokeWidth={0.8} />
          <text x={255} y={20} fontSize={8.5} fontFamily={FONT}>Correct trial</text>
          <text x={255} y={32.5} fontSize={8.5} fontFamily={FONT}>Error trial</text>
          <text x={255} y={45} fontSize={8.5} fontFamily={FONT}>Omission trial</text>
          <rect x={330} y={14} width={17} height={5.5} fill="#fff" stroke="#000" strokeWidth={0.8} />
          <circle cx={338.5} cy={29.2} r={4.3} fill="none" stroke={RED} strokeWidth={1.2} />
          <path d="M334.5,37.8L342.5,45.8M334.5,45.8L342.5,37.8" stroke={RED} strokeWidth={1.2} />
          <text x={354} y={20} fontSize={8.5} fontFamily={FONT}>Intertrial</text>
          <text x={354} y={32.5} fontSize={8.5} fontFamily={FONT}>Goal time</text>
          <text x={354} y={45} fontSize={8.5} fontFamily={FONT}>ET</text>

          {/* A labels */}
          <text x={13} y={180} fontSize={14} fontFamily={FONT} textAnchor="middle" transform="rotate(-90 13 180)">Position (cm)</text>
          <text x={310} y={388} fontSize={14} fontFamily={FONT} textAnchor="middle">Time (s)</text>
          <text x={688} y={388} fontSize={14} fontFamily={FONT} textAnchor="middle">Time to <tspan fontStyle="italic">ET</tspan> (s)</text>

          {/* B labels */}
          <text x={13} y={467} fontSize={14} fontFamily={FONT} textAnchor="middle" transform="rotate(-90 13 467)"><tspan fontStyle="italic">ET</tspan> (s)</text>
          <text x={201} y={556} fontSize={14} fontFamily={FONT} textAnchor="middle">Session#</text>
          <text x={350} y={510} fontSize={8.5} fontFamily={FONT} textAnchor="end" fill="#333">Immobile treadmill, <tspan fontStyle="italic">n</tspan> = 10 rats</text>
          <text x={350} y={519} fontSize={8.5} fontFamily={FONT} textAnchor="end" fill="#999">Control, <tspan fontStyle="italic">n</tspan> = 54 rats</text>

          {/* C labels */}
          <text x={401} y={467} fontSize={14} fontFamily={FONT} textAnchor="middle" transform="rotate(-90 401 467)"><tspan fontStyle="italic">SD</tspan><tspan fontStyle="italic" fontSize={10} dy={3}>ET</tspan><tspan dy={-3}> (s)</tspan></text>
          <text x={593} y={556} fontSize={14} fontFamily={FONT} textAnchor="middle">Session#</text>

          {/* D labels */}
          <text x={13} y={650} fontSize={14} fontFamily={FONT} textAnchor="middle" transform="rotate(-90 13 650)">Position±sem (cm)</text>
          <text x={120} y={748} fontSize={14} fontFamily={FONT} textAnchor="middle">Time to <tspan fontStyle="italic">ET</tspan> (s)</text>

          {/* E labels */}
          <text x={228} y={650} fontSize={14} fontFamily={FONT} textAnchor="middle" transform="rotate(-90 228 650)">% Correct trials</text>
          <text x={327} y={748} fontSize={14} fontFamily={FONT} textAnchor="middle">Rat#</text>

          {/* F labels */}
          <text x={402} y={610} fontSize={11} fontFamily={FONT}><tspan fontStyle="italic">r</tspan> = +0.56</text>
          <text x={402} y={625} fontSize={11} fontFamily={FONT}><tspan fontStyle="italic">p</tspan> = 5.84×10<tspan fontSize={8} dy={-5}>−9</tspan></text>
          <text x={472} y={748} fontSize={14} fontFamily={FONT} textAnchor="middle">Displacement (cm)</text>

          {/* G labels */}
          <text x={583} y={650} fontSize={14} fontFamily={FONT} textAnchor="middle" transform="rotate(-90 583 650)"><tspan fontStyle="italic">P</tspan>(7 ≤ <tspan fontStyle="italic">ET</tspan> &lt; 15)</text>
          <text x={672} y={748} fontSize={14} fontFamily={FONT} textAnchor="middle">Displacement (cm)</text>
        </g>
      </svg>
    </div>
  );
}
